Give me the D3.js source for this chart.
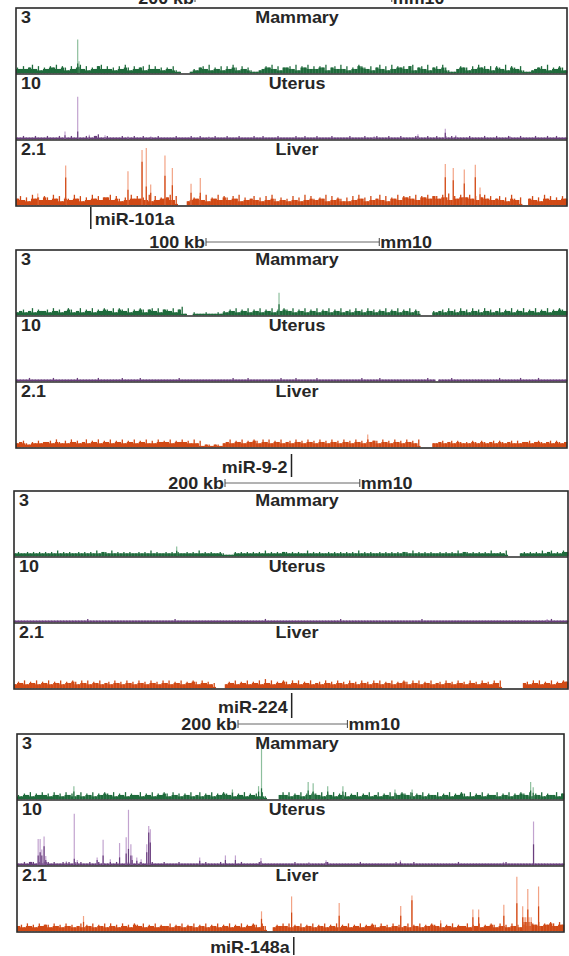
<!DOCTYPE html>
<html lang="en">
<head>
<meta charset="UTF-8">
<title>Signal tracks at miRNA loci</title>
<script src="https://d3js.org/d3.v7.min.js"></script>
<style>
  body { margin: 0; background: #fff; }
  text { font-family: "Liberation Sans", Arial, sans-serif; font-weight: bold; fill: #262626; }
</style>
</head>
<body>
<svg id="chart" width="569" height="956"></svg>
<script>
// ---- data ----
const tissues = ["Mammary", "Uterus", "Liver"];
const viewMax = [3, 10, 2.1];          // data range shown per track
const noiseUnit = [0.065, 0.25, 0.042]; // value of one digit in the noise strings
const regions = ["miR-101a", "miR-9-2", "miR-224", "miR-148a"];
const regionKb = [560, 318, 822, 1000]; // window width, kb
const scaleBarKb = [200, 100, 200, 200];
const mirKb = [76, 159, 412, 506];       // miRNA position in window, kb
const assembly = "mm10";

// background signal, one digit per bin across the window (0 = no reads)
const noise101a = [
  "4353463524 3546354253 4635243563 5342536425 3452635342 4352100013 2453624352 5364253421 1235463524 4536254635 3546245363 5243654352 4635263545 3562453624 5364211354 4253645352 5436254352 1123453624 3542",
  "1121112111 2111211121 1112112311 2111121112 1121111211 1112111121 1211112111 2111211112 1121111211 1112112111 2111121111 1211112111 2111211121 1112111211 2112121111 1211112111 2111211121 1112111211 2111",
  "5746385647 6485736548 5736485746 6847536485 7564837465 6847000346 5748365847 6475836457 4637485364 5374638475 4658374653 6374856374 5847365847 6758476857 7586947586 6857468574 5746385460 0574638574 6475"
];
const noise9_2 = [
  "2342352433 4253423542 3524352435 4352543524 3542453524 4352461002 1112111213 2435243524 3524352435 4352435243 5243524352 3425342534 2435243524 3524300003 2342534253 4253425342 3524352435 2435243524 3543",
  "1111211111 1121111111 2111111211 1111121111 1211111111 1111211111 1111111111 1121111211 1111111121 1112111111 2111111111 1111121111 1211111111 1111111211 0111121111 1111111111 1211111121 1111211111 1111",
  "3453243534 4536435364 5346354635 4635463546 3546353645 4635464536 3512212213 4635463546 5364635463 4536453645 3645364536 4536453645 5364536453 6453600003 3453453543 4354354345 3543453534 4534543453 5434"
];
const noise224 = [
  "2322323232 3232423232 2323232423 3242323232 2323242322 3232322323 2423232232 1113232323 2324232323 3232322423 2322323232 3232423232 2323232323 3242323232 2323232423 3232323242 2324000023 2323242342 3243",
  "1111111111 1111111111 1111211111 1111111111 1111111111 1112111111 1111111111 1111111111 1112111111 1111111111 1111111121 1111111111 1111111111 1111121111 1111111111 1111111111 1111111111 1111111121 1111",
  "3546354635 4635463546 5364635463 4536453645 3645364536 4635463546 5364534000 3546354635 4637463546 5364635463 4536453645 3645364536 4635463546 5364635463 4536453645 3645364536 4600000004 5364635463 5465"
];
const noise148a = [
  "3243524353 4253425342 3524352435 4352435243 3524352435 4253424352 3524352435 4352435243 4252000035 3524352435 4352435243 5243524352 3524352435 4352435243 3524352435 4252435243 3524352435 4352435243 3524",
  "1121221212 2121121212 1211211211 1112111211 1211121112 1111211111 1112111121 1111121111 1211111111 1112111111 1111211111 1111121111 1111111211 1112111111 1111111121 1111111111 1111211111 1111111111 1111",
  "4536453645 5364536453 4635463546 3645364536 5463546354 4635463546 3546354635 4635463546 5364003546 4635463546 3546354635 4635463546 5364536453 4635463546 5463546354 4635463546 5364536453 5746574657 6475"
];

// peaks: [position kb, max, mean]
const spikes101a = [
  [[62.7, 1.55, 0.45], [64, 0.55, 0.3]],
  [[49.8, 1.2, 0.6], [62.7, 6.5, 1.2], [74.5, 0.7, 0.4], [90.5, 0.6, 0.3], [113.8, 0.45, 0.3], [137, 0.45, 0.3], [196, 0.4, 0.3], [364, 0.45, 0.3], [408.5, 0.75, 0.5], [436.3, 1.6, 1.0], [446.9, 0.6, 0.4], [502, 0.5, 0.3]],
  [[22.1, 0.38, 0.25], [50.5, 1.28, 0.89], [113.8, 1.09, 0.5], [128.1, 1.78, 1.4], [132.4, 1.84, 0.6], [136.9, 0.67, 0.4], [151.4, 1.6, 0.95], [158.9, 1.2, 0.64], [177.9, 0.69, 0.4], [187.3, 0.88, 0.4], [436.3, 1.33, 0.9], [444.4, 1.2, 0.8], [455.6, 1.15, 0.7], [466.8, 1.3, 0.9], [471.6, 0.57, 0.35]]
];
const spikes9_2 = [
  [[151.8, 1.03, 0.5]],
  [],
  [[203, 0.41, 0.25]]
];
const spikes224 = [
  [[241.4, 0.45, 0.25]],
  [[791, 0.5, 0.3]],
  []
];
const spikes148a = [
  [[104, 0.6, 0.35], [393.8, 0.45, 0.3], [441.6, 0.6, 0.35], [447, 2.58, 0.5], [532.3, 0.79, 0.4], [541.4, 0.73, 0.35], [568, 0.6, 0.35], [595.8, 0.6, 0.35], [691, 0.45, 0.3], [722.3, 0.45, 0.3], [939, 0.79, 0.4], [943.7, 0.55, 0.3]],
  [[38.7, 4.0, 1.5], [42.3, 4.0, 2.0], [45.4, 2.4, 1.5], [49.5, 4.4, 2.9], [52.6, 1.4, 0.8], [90.2, 0.6, 0.4], [104.7, 7.9, 1.0], [110.2, 0.8, 0.5], [146.5, 1.2, 0.8], [157.4, 3.9, 1.5], [170.6, 0.9, 0.5], [187.5, 3.4, 1.2], [199.6, 4.3, 1.8], [203.8, 8.5, 2.5], [208.2, 3.2, 1.5], [210.5, 1.5, 0.8], [219, 1.2, 0.7], [226.9, 0.9, 0.5], [237.2, 3.2, 2.0], [240.8, 6.0, 5.0], [243.7, 5.5, 3.5], [334, 1.2, 0.7], [381, 1.5, 0.8], [399.3, 1.5, 0.8], [446, 1.1, 0.6], [533.6, 0.5, 0.3], [565, 0.75, 0.5], [701, 0.75, 0.5], [889.3, 0.5, 0.3], [944.3, 6.7, 3.2]],
  [[121.6, 0.49, 0.3], [447, 0.64, 0.4], [502, 1.12, 0.6], [589, 0.91, 0.5], [701.5, 0.81, 0.5], [722, 1.15, 1.0], [774.4, 0.35, 0.25], [833.4, 0.7, 0.45], [844, 0.7, 0.45], [890, 0.85, 0.5], [913.8, 1.75, 0.9], [924.5, 0.8, 0.45], [927, 0.45, 0.3], [930, 0.45, 0.3], [933.8, 1.36, 0.7], [936, 0.45, 0.3], [940, 0.45, 0.3], [953.5, 1.44, 0.8]]
];

const noise = [noise101a, noise9_2, noise224, noise148a];
const spikes = [spikes101a, spikes9_2, spikes224, spikes148a];

// ---- layout ----
const panelTop = [8, 250, 491, 734];
const panelX = [[16, 567], [16, 567], [14, 568], [17, 564]];
const trackH = 66;
const barLeft = [195, 206, 225, 238];
const barY = [-2, 242, 483, 724];
const mirBar = [[207, 229], [454, 477], [693, 718], [937, 955]];
const mirBase = [225, 472.5, 712.5, 952.5];
const dark = ["#1f6b3c", "#6a3f7e", "#d14a16"];
const light = ["#8dbf9d", "#c2a3cf", "#f2a385"];
const stretch = 1.12;

const svg = d3.select("#chart");

// text drawn a little wider, like the original figure
function label(x, y, str, anchor, size) {
  svg.append("g")
    .attr("transform", `translate(${x},${y}) scale(${stretch},1)`)
    .append("text")
    .attr("text-anchor", anchor)
    .attr("font-size", size)
    .text(str);
}

regions.forEach((name, p) => {
  const [x0, x1] = panelX[p];
  const top = panelTop[p];
  const x = d3.scaleLinear().domain([0, regionKb[p]]).range([x0, x1]);

  tissues.forEach((tissue, k) => {
    const tTop = top + k * trackH, tBot = tTop + trackH - 0.8;
    const y = d3.scaleLinear().domain([0, viewMax[k]]).range([tBot, tTop]);
    const str = noise[p][k].replace(/\s/g, "");
    const step = regionKb[p] / str.length;
    const bins = Array.from(str, (c, i) => ({ start: i * step, end: (i + 1) * step, v: +c * noiseUnit[k] }));
    // solid floor under each bin: lower of the bin and the next one
    bins.forEach((b, i) => {
      b.floor = d3.min([b, bins[i + 1]].filter(Boolean), d => d.v);
    });
    const shown = bins.filter(b => b.v > 0);

    const ng = svg.append("g");
    ng.selectAll("rect")
      .data(shown)
      .join("rect")
      .attr("x", b => x(b.start))
      .attr("width", b => x(b.end) - x(b.start) + 0.3)
      .attr("y", b => y(Math.max(b.floor, noiseUnit[k])))
      .attr("height", b => tBot - y(Math.max(b.floor, noiseUnit[k])))
      .attr("fill", dark[k]);
    ng.selectAll("line")
      .data(shown)
      .join("line")
      .attr("x1", b => x((b.start + b.end) / 2)).attr("x2", b => x((b.start + b.end) / 2))
      .attr("y1", tBot).attr("y2", b => y(b.v))
      .attr("stroke", dark[k])
      .attr("stroke-width", 1.3);

    const sp = svg.append("g");
    sp.selectAll("line.max")
      .data(spikes[p][k])
      .join("line")
      .attr("class", "max")
      .attr("x1", d => x(d[0])).attr("x2", d => x(d[0]))
      .attr("y1", tBot).attr("y2", d => y(d[1]))
      .attr("stroke", light[k])
      .attr("stroke-width", 1.2);
    sp.selectAll("line.mean")
      .data(spikes[p][k])
      .join("line")
      .attr("class", "mean")
      .attr("x1", d => x(d[0])).attr("x2", d => x(d[0]))
      .attr("y1", tBot).attr("y2", d => y(d[2]))
      .attr("stroke", dark[k])
      .attr("stroke-width", 1.2);

    label(x0 + 5, tTop + 14.5, String(viewMax[k]), "start", 16);
    label(297, tTop + 14.5, tissue, "middle", 16);
  });

  // frame and track dividers
  svg.append("rect")
    .attr("x", x0).attr("y", top)
    .attr("width", x1 - x0).attr("height", 3 * trackH)
    .attr("fill", "none").attr("stroke", "#2a2a2a").attr("stroke-width", 1.6);
  [1, 2].forEach(i => {
    svg.append("line")
      .attr("x1", x0).attr("x2", x1)
      .attr("y1", top + i * trackH).attr("y2", top + i * trackH)
      .attr("stroke", "#2a2a2a").attr("stroke-width", 1.6);
  });

  // scale bar
  const bx0 = barLeft[p];
  const bx1 = bx0 + (x(scaleBarKb[p]) - x(0));
  const by = barY[p];
  svg.append("line").attr("x1", bx0).attr("x2", bx1).attr("y1", by).attr("y2", by)
    .attr("stroke", "#666").attr("stroke-width", 1);
  [bx0, bx1].forEach(bx => {
    svg.append("line").attr("x1", bx).attr("x2", bx).attr("y1", by - 4).attr("y2", by + 4)
      .attr("stroke", "#444").attr("stroke-width", 1);
  });
  label(bx0 - 1, by + 5.5, scaleBarKb[p] + " kb", "end", 16);
  label(bx1 + 1, by + 5.5, assembly, "start", 16);

  // miRNA marker
  const mx = x(mirKb[p]);
  svg.append("line").attr("x1", mx).attr("x2", mx)
    .attr("y1", mirBar[p][0]).attr("y2", mirBar[p][1])
    .attr("stroke", "#222").attr("stroke-width", 1.5);
  if (p === 0) label(mx + 4, mirBase[p], name, "start", 16);
  else label(mx - 4, mirBase[p], name, "end", 16);
});
</script>
</body>
</html>
